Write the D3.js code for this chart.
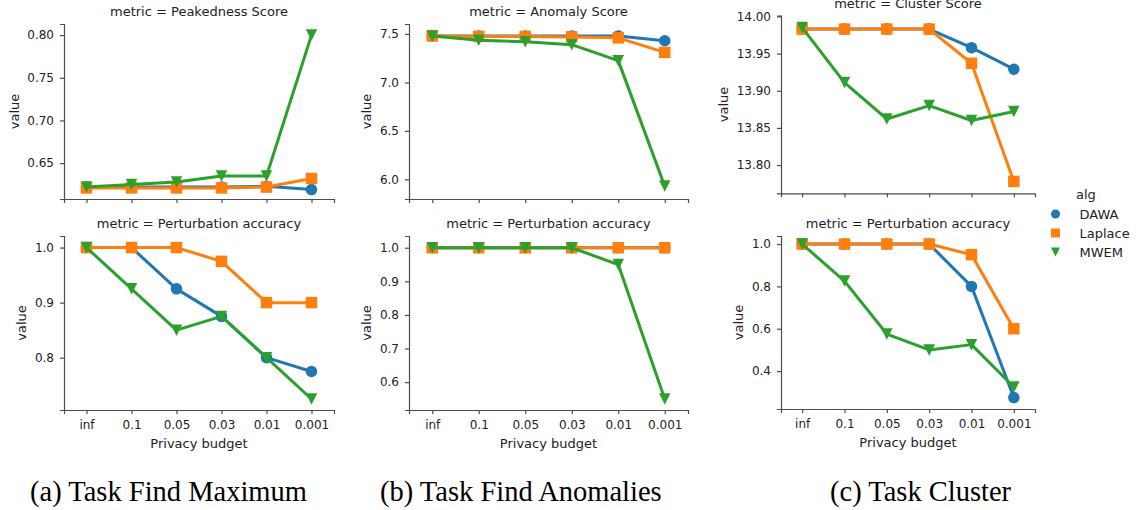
<!DOCTYPE html>
<meta charset="utf-8">
<style>
body { margin: 0; background: #fff; }
svg { font-family: "DejaVu Sans", sans-serif; }
.axis path, .axis line { fill: none; stroke: #4d4d4d; stroke-width: 1.2; }
.axis text { font-family: "DejaVu Sans", sans-serif; font-size: 12px; fill: #222; }
.lbl { font-family: "DejaVu Sans", sans-serif; font-size: 13px; fill: #222; }
.cap { font-family: "Liberation Serif", "Times New Roman", serif; font-size: 28.5px; fill: #000; }
</style>
<body>
<script src="https://cdn.jsdelivr.net/npm/d3@7"></script>
<script>

var budgets = ["inf", "0.1", "0.05", "0.03", "0.01", "0.001"];
var algs = ["DAWA", "Laplace", "MWEM"];
var colors = ["#1f77b4", "#ff7f0e", "#2ca02c"];

// (a) find maximum
var peakDAWA    = [0.622, 0.622, 0.622, 0.622, 0.623, 0.619];
var peakLaplace = [0.621, 0.621, 0.621, 0.621, 0.622, 0.632];
var peakMWEM    = [0.622, 0.625, 0.628, 0.635, 0.635, 0.800];
var pertA_DAWA    = [1.0, 1.0, 0.925, 0.875, 0.80, 0.775];
var pertA_Laplace = [1.0, 1.0, 1.0, 0.975, 0.90, 0.90];
var pertA_MWEM    = [1.0, 0.925, 0.85, 0.875, 0.80, 0.725];

// (b) find anomalies
var anomDAWA    = [7.48, 7.48, 7.48, 7.48, 7.48, 7.43];
var anomLaplace = [7.48, 7.475, 7.475, 7.47, 7.46, 7.31];
var anomMWEM    = [7.48, 7.435, 7.42, 7.39, 7.225, 5.93];
var pertB_DAWA    = [1.0, 1.0, 1.0, 1.0, 1.0, 1.0];
var pertB_Laplace = [1.0, 1.0, 1.0, 1.0, 1.0, 1.0];
var pertB_MWEM    = [1.0, 1.0, 1.0, 1.0, 0.95, 0.55];

// (c) cluster
var clusDAWA    = [13.983, 13.983, 13.983, 13.983, 13.958, 13.929];
var clusLaplace = [13.983, 13.983, 13.983, 13.983, 13.937, 13.778];
var clusMWEM    = [13.985, 13.911, 13.862, 13.880, 13.860, 13.872];
var pertC_DAWA    = [1.0, 1.0, 1.0, 1.0, 0.80, 0.275];
var pertC_Laplace = [1.0, 1.0, 1.0, 1.0, 0.95, 0.60];
var pertC_MWEM    = [1.0, 0.825, 0.575, 0.50, 0.525, 0.325];

var ticksPeak = [0.65, 0.70, 0.75, 0.80];
var ticksAnom = [6.0, 6.5, 7.0, 7.5];
var ticksClus = [13.80, 13.85, 13.90, 13.95, 14.00];
var ticksPertA = [0.8, 0.9, 1.0];
var ticksPertB = [0.6, 0.7, 0.8, 0.9, 1.0];
var ticksPertC = [0.4, 0.6, 0.8, 1.0];

var captions = ["(a) Task Find Maximum", "(b) Task Find Anomalies", "(c) Task Cluster"];

var panels = [
  {title: "metric = Peakedness Score", s: [peakDAWA, peakLaplace, peakMWEM], ticks: ticksPeak, fmt: ".2f",
   x0: 64, x1: 334, y0: 24, y1: 199, dom: [0.608, 0.813], bottom: false},
  {title: "metric = Perturbation accuracy", s: [pertA_DAWA, pertA_Laplace, pertA_MWEM], ticks: ticksPertA, fmt: ".1f",
   x0: 64, x1: 334, y0: 236, y1: 410, dom: [0.705, 1.021], bottom: true},
  {title: "metric = Anomaly Score", s: [anomDAWA, anomLaplace, anomMWEM], ticks: ticksAnom, fmt: ".1f",
   x0: 409, x1: 688, y0: 24, y1: 199, dom: [5.797, 7.603], bottom: false},
  {title: "metric = Perturbation accuracy", s: [pertB_DAWA, pertB_Laplace, pertB_MWEM], ticks: ticksPertB, fmt: ".1f",
   x0: 409, x1: 688, y0: 236, y1: 410, dom: [0.517, 1.035], bottom: true},
  {title: "metric = Cluster Score", s: [clusDAWA, clusLaplace, clusMWEM], ticks: ticksClus, fmt: ".2f",
   x0: 781, x1: 1035, y0: 15.7, y1: 193.3, dom: [13.762, 14.001], bottom: false},
  {title: "metric = Perturbation accuracy", s: [pertC_DAWA, pertC_Laplace, pertC_MWEM], ticks: ticksPertC, fmt: ".1f",
   x0: 781, x1: 1035, y0: 236, y1: 409, dom: [0.221, 1.038], bottom: true}
];

var svg = d3.select("body").append("svg")
    .attr("width", 1140)
    .attr("height", 510);

function markerPath(i, sz) {
  var h = sz / 2;
  if (i == 0) return d3.symbol().type(d3.symbolCircle).size(Math.PI * h * h)();
  if (i == 1) return "M" + (-h) + "," + (-h) + "H" + h + "V" + h + "H" + (-h) + "Z";
  return "M" + (-h) + "," + (-h) + "H" + h + "L0," + h + "Z";
}

panels.forEach(function(p) {
  var x = d3.scalePoint().domain(budgets).range([p.x0, p.x1]).padding(0.5);
  var y = d3.scaleLinear().domain(p.dom).range([p.y1, p.y0]);

  var xa = svg.append("g")
      .attr("class", "axis")
      .attr("transform", "translate(0," + p.y1 + ")")
      .call(d3.axisBottom(x).tickSizeOuter(0).tickSize(4).tickPadding(6));
  if (!p.bottom) xa.selectAll("text").remove();

  var ya = svg.append("g")
      .attr("class", "axis")
      .attr("transform", "translate(" + p.x0 + ",0)")
      .call(d3.axisLeft(y).tickValues(p.ticks).tickFormat(d3.format(p.fmt)).tickSizeOuter(0).tickSize(4).tickPadding(6));

  var bb = ya.node().getBBox();
  svg.append("text")
      .attr("class", "lbl")
      .attr("transform", "translate(" + (p.x0 + bb.x - 13) + "," + ((p.y0 + p.y1) / 2) + ") rotate(-90)")
      .attr("text-anchor", "middle")
      .attr("dy", "0.35em")
      .text("value");

  svg.append("text")
      .attr("class", "lbl")
      .attr("x", (p.x0 + p.x1) / 2)
      .attr("y", p.y0 - 8)
      .attr("text-anchor", "middle")
      .text(p.title);

  if (p.bottom) {
    svg.append("text")
        .attr("class", "lbl")
        .attr("x", (p.x0 + p.x1) / 2)
        .attr("y", p.y1 + 37.5)
        .attr("text-anchor", "middle")
        .text("Privacy budget");
  }

  var line = d3.line()
      .x(function(d, i) { return x(budgets[i]); })
      .y(function(d) { return y(d); });

  p.s.forEach(function(vals, k) {
    svg.append("path")
        .datum(vals)
        .attr("d", line)
        .attr("fill", "none")
        .attr("stroke", colors[k])
        .attr("stroke-width", 3)
        .attr("stroke-linejoin", "round");
    svg.selectAll(null)
        .data(vals)
      .enter().append("path")
        .attr("d", markerPath(k, 11.5))
        .attr("transform", function(d, i) { return "translate(" + x(budgets[i]) + "," + y(d) + ")"; })
        .attr("fill", colors[k]);
  });
});

// legend
svg.append("text")
    .attr("class", "lbl")
    .attr("x", 1076)
    .attr("y", 199)
    .text("alg");

var leg = svg.selectAll(".leg")
    .data(algs)
  .enter().append("g")
    .attr("class", "leg")
    .attr("transform", function(d, i) { return "translate(1055.5," + (214 + i * 19) + ")"; });
leg.append("path")
    .attr("d", function(d, i) { return markerPath(i, 9); })
    .attr("fill", function(d, i) { return colors[i]; });
leg.append("text")
    .attr("class", "lbl")
    .attr("x", 24)
    .attr("dy", "0.35em")
    .text(function(d) { return d; });

// captions
var capX = [30, 380, 830];
svg.selectAll(".cap")
    .data(captions)
  .enter().append("text")
    .attr("class", "cap")
    .attr("x", function(d, i) { return capX[i]; })
    .attr("y", 501)
    .text(function(d) { return d; });

</script>
</body>
